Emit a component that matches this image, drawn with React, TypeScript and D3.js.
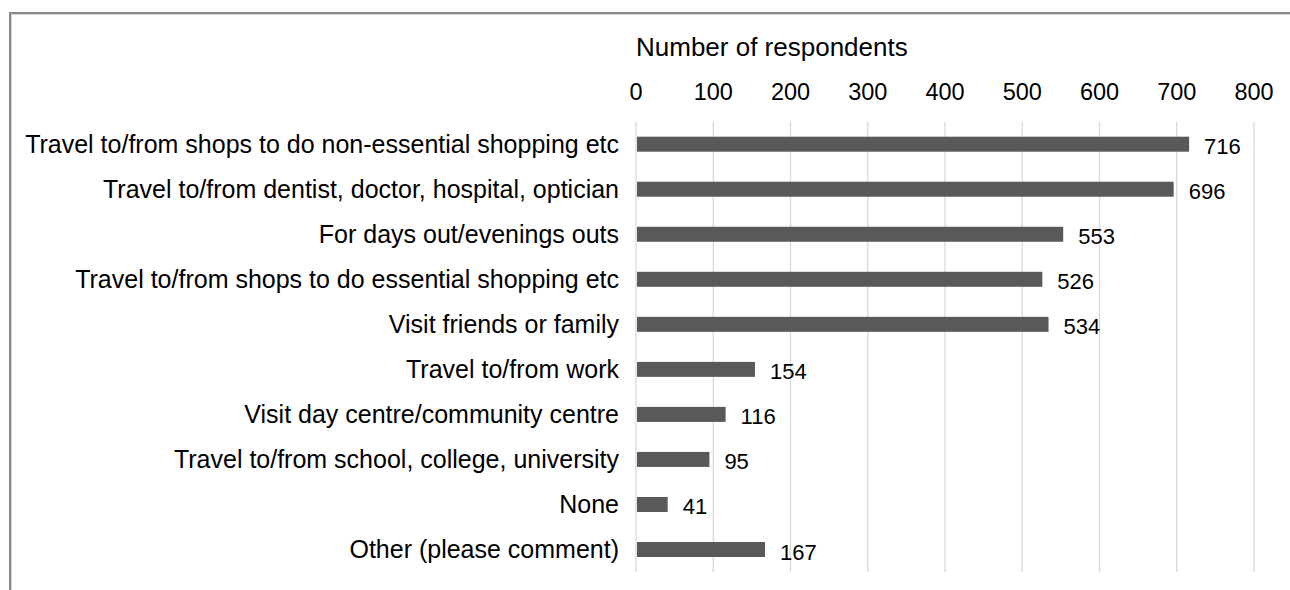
import React from "react";
import * as d3 from "d3";

const categories = [
  "Travel to/from shops to do non-essential shopping etc",
  "Travel to/from dentist, doctor, hospital, optician",
  "For days out/evenings outs",
  "Travel to/from shops to do essential shopping etc",
  "Visit friends or family",
  "Travel to/from work",
  "Visit day centre/community centre",
  "Travel to/from school, college, university",
  "None",
  "Other (please comment)",
];
const values = [716, 696, 553, 526, 534, 154, 116, 95, 41, 167];
const ticks = [0, 100, 200, 300, 400, 500, 600, 700, 800];
const axisTitle = "Number of respondents";

const W = 1290;
const H = 590;
const FONT = "'Liberation Sans', Arial, sans-serif";

export default function App() {
  const x = d3.scaleLinear().domain([0, 800]).range([636, 1254]);
  const y = d3
    .scaleBand<string>()
    .domain(categories)
    .range([121.7, 572])
    .paddingInner(0.667)
    .paddingOuter(0.333);
  const bw = y.bandwidth();

  return (
    <div style={{ position: "fixed", left: 0, top: 0, width: W, height: H, background: "#fff" }}>
      <svg width={W} height={H} style={{ display: "block" }} fontFamily={FONT}>
        <rect x={0} y={0} width={W} height={H} fill="#fff" />
        {/* frame */}
        <line x1={10} y1={13} x2={W} y2={13} stroke="#8a8a8a" strokeWidth={2} />
        <line x1={10} y1={12} x2={10} y2={H} stroke="#8a8a8a" strokeWidth={2} />
        <line x1={11} y1={14.5} x2={W} y2={14.5} stroke="#d6d6d6" strokeWidth={1} />
        <line x1={11.5} y1={14} x2={11.5} y2={H} stroke="#d6d6d6" strokeWidth={1} />

        {/* gridlines */}
        {ticks.map((t) => (
          <line
            key={"g" + t}
            x1={x(t)}
            x2={x(t)}
            y1={121.7}
            y2={572}
            stroke="#d9d9d9"
            strokeWidth={1.3}
          />
        ))}

        {/* tick labels */}
        {ticks.map((t) => (
          <text key={"t" + t} x={x(t)} y={100} textAnchor="middle" fontSize={23.5} fill="#000">
            {t}
          </text>
        ))}

        {/* axis title */}
        <text x={x(0)} y={56} textAnchor="start" fontSize={26} fill="#000">
          {axisTitle}
        </text>

        {/* bars */}
        {categories.map((c, i) => {
          const yy = y(c) as number;
          const cy = yy + bw / 2;
          return (
            <g key={c}>
              <rect x={x(0) + 1} y={yy} width={x(values[i]) - x(0) - 1} height={bw} fill="#595959" />
              <text x={x(0) - 17} y={cy} dy="0.35em" textAnchor="end" fontSize={25} fill="#000">
                {c}
              </text>
              <text x={x(values[i]) + 15} y={cy + 10} textAnchor="start" fontSize={22} fill="#000">
                {values[i]}
              </text>
            </g>
          );
        })}
      </svg>
    </div>
  );
}
